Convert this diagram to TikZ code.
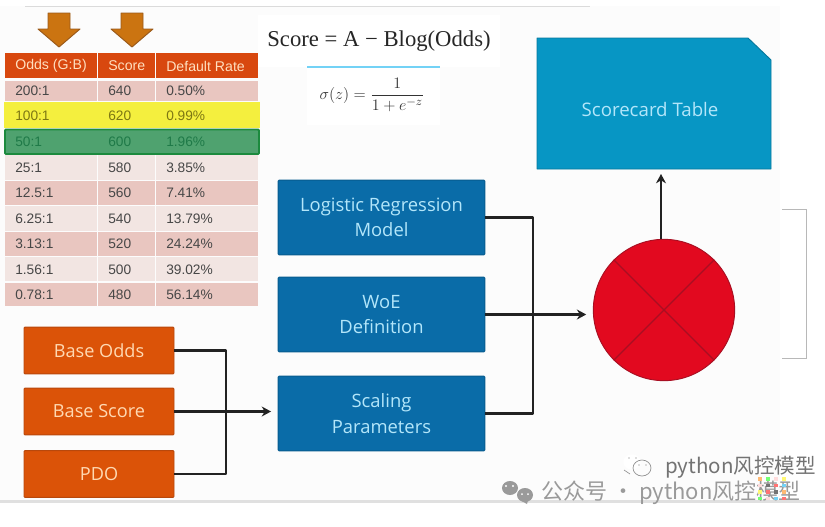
\documentclass[tikz,border=0pt]{standalone}
\usepackage{fontspec}
\usetikzlibrary{arrows.meta,calc}
\setmainfont{Liberation Sans}
\newfontfamily\boxfont{Open Sans}
\newfontfamily\eqfont{Liberation Serif}
\newfontfamily\cjkfont{Noto Sans CJK SC}
\definecolor{pagebg}{HTML}{FCFCFC}
\definecolor{headred}{HTML}{D8480F}
\definecolor{rowdark}{HTML}{E9C6C0}
\definecolor{rowlight}{HTML}{F2E5E2}
\definecolor{rowyellow}{HTML}{F4EF3E}
\definecolor{rowgreen}{HTML}{4FA26F}
\definecolor{greenedge}{HTML}{1C8A3E}
\definecolor{greentext}{HTML}{1F7A48}
\definecolor{orangebox}{HTML}{DB5308}
\definecolor{orangeedge}{HTML}{B8480C}
\definecolor{bluebox}{HTML}{0A6CA8}
\definecolor{tealbox}{HTML}{0796C4}
\definecolor{arrowor}{HTML}{CB7411}
\definecolor{arrowedge}{HTML}{9A5A1A}
\definecolor{redc}{HTML}{E2091F}
\definecolor{redl}{HTML}{A80F22}
\definecolor{line}{HTML}{222222}
\definecolor{wm}{HTML}{9A9A9A}
\tikzset{
  x=0.75pt,y=-0.75pt,
  cell/.style={anchor=west,inner sep=0pt,font=\fontsize{10.3}{12}\selectfont,text=black!72},
  hcell/.style={cell,font=\fontsize{10.6}{12}\selectfont,text=white!75!orange},
  orbox/.style={draw=orangeedge,fill=orangebox,line width=0.7pt,rounded corners=0.7pt,minimum width=112.5pt,minimum height=35pt,inner sep=0pt,text=white!70!orange,font=\boxfont\fontsize{13.6}{15}\selectfont},
  blbox/.style={draw=bluebox!85!black,fill=bluebox,line width=0.7pt,rounded corners=0.7pt,minimum width=155pt,minimum height=56pt,inner sep=0pt,align=center,text=white!70!cyan,font=\boxfont\fontsize{13.8}{19}\selectfont},
  conn/.style={draw=line,line width=1.7pt},
  conna/.style={conn,-{Stealth[length=7pt,width=7.5pt]}},
  down/.style={fill=arrowor,draw=arrowedge,line width=0.7pt,line join=round},
  wmtext/.style={inner sep=0pt,anchor=west,text=wm}
}
\begin{document}
\begin{tikzpicture}
\useasboundingbox (0,0) rectangle (825,526);
\fill[white] (0,0) rectangle (825,526);
\fill[pagebg] (0,6) rectangle (780,500);
\fill[black!12] (0,500) rectangle (825,503);
\fill[black!14] (25,5.5) rectangle (590,7);
% down arrows
\draw[down] (48,13)--(70,13)--(70,29)--(80,29)--(59,47)--(38,29)--(48,29)--cycle;
\draw[down] (121,13)--(143,13)--(143,29)--(153,29)--(132,47)--(111,29)--(121,29)--cycle;
% table fills
\foreach \ya/\yb/\c in {53/78/headred,81/101/rowdark,155/180/rowlight,181/205/rowdark,206/231/rowlight,232/256/rowdark,257/281/rowlight,283/306/rowdark}{
  \fill[\c] (5,\ya) rectangle (96.5,\yb);
  \fill[\c] (97.5,\ya) rectangle (155,\yb);
  \fill[\c] (156,\ya) rectangle (258,\yb);
}
\fill[rowyellow] (4,102) rectangle (260,128);
\draw[fill=rowgreen,draw=greenedge,line width=1.4pt,rounded corners=0.7pt] (5,129.5) rectangle (259,154);
% table text
\node[hcell] (h1) at (15,66) {Odds (G:B)};
\node[hcell] (h2) at (108,66) {Score};
\node[hcell] (h3) at (166,66) {Default Rate};
\foreach \n/\y/\a/\b/\d in {1/91/200:1/640/0.50\%,4/168/25:1/580/3.85\%,5/193/12.5:1/560/7.41\%,6/219/6.25:1/540/13.79\%,7/244/3.13:1/520/24.24\%,8/270/1.56:1/500/39.02\%,9/295/0.78:1/480/56.14\%}{
  \node[cell] (a\n) at (15,\y) {\a};
  \node[cell] (b\n) at (108,\y) {\b};
  \node[cell] (c\n) at (166,\y) {\d};
}
\node[cell,text=olive!85!black] (a2) at (15,116) {100:1};
\node[cell,text=olive!85!black] (b2) at (108,116) {620};
\node[cell,text=olive!85!black] (c2) at (166,116) {0.99\%};
\node[cell,text=greentext] (a3) at (15,142) {50:1};
\node[cell,text=greentext] (b3) at (108,142) {600};
\node[cell,text=greentext] (c3) at (166,142) {1.96\%};
% formulas
\fill[white] (258,15) rectangle (500,67);
\fill[white] (307,67) rectangle (440,125);
\draw[cyan!55,line width=1pt] (307,67) -- (440,67);
\node[inner sep=0pt,text=black!85,font=\eqfont\fontsize{17}{19}\selectfont] (eq1) at (379,41) {Score = A − Blog(Odds)};
\node[inner sep=0pt,text=black!80,font=\fontsize{12.8}{15}\selectfont] (eq2) at (372,95) {$\displaystyle\sigma(z)=\frac{1}{1+e^{-z}}$};
% scorecard
\draw[fill=tealbox,draw=tealbox!80!black,line width=0.7pt,line join=round] (537,38)--(748,38)--(771,60)--(771,169)--(537,169)--cycle;
\node[inner sep=0pt,text=white!70!cyan,font=\boxfont\fontsize{14}{16}\selectfont] (card) at (650,109) {Scorecard Table};
\coordinate (cardin) at (661,174);
% boxes
\node[orbox] (odds) at (99,350.5) {Base Odds};
\node[orbox] (score) at (99,411.5) {Base Score};
\node[orbox] (pdo) at (99,474) {PDO};
\node[blbox] (lr) at (381.5,217.5) {Logistic Regression\\Model};
\node[blbox] (woe) at (381.5,314.5) {WoE\\Definition};
\node[blbox] (scal) at (381.5,413.5) {Scaling\\Parameters};
% circle
\node[circle,fill=redc,draw=redl,line width=0.7pt,minimum size=106pt,inner sep=0pt] (circ) at (664,310) {};
\draw[redl,line width=1pt] (circ.45)--(circ.225) (circ.135)--(circ.315);
% connectors
\coordinate (j1) at (226,350);
\coordinate (j2) at (533,217);
\draw[conn,line join=round] (odds.east) -- (j1 |- odds.east) -- (j1 |- pdo.east) -- (pdo.east);
\draw[conna,shorten >=5pt] (score.east) -- (scal.west |- score.east);
\draw[conn,line join=round] (lr.east) -- (j2 |- lr.east) -- (j2 |- scal.east) -- (scal.east);
\draw[conna,shorten >=5pt] (woe.east) -- (circ.west |- woe.east);
\draw[conna] (circ.north -| cardin) -- (cardin);
% bracket
\coordinate (br1) at (782,209);
\coordinate (br2) at (806,209);
\coordinate (br3) at (806,358);
\coordinate (br4) at (782,358);
\draw[black!28,line width=0.6pt] (br1)--(br2)--(br3)--(br4);
% watermark
\fill[wm] (510,488) ellipse (8 and 7);
\fill[wm] (525,495) ellipse (8 and 7);
\fill[wm] (520,500) -- (528,500) -- (527,504) -- cycle;
\fill[white] (506,486) circle (1.1) (513,486) circle (1.1) (522,494) circle (1) (528,494) circle (1);
\draw[white,line width=1pt,fill=white] (632,462) ellipse (8 and 7);
\draw[black!45,line width=0.5pt] (642,468) ellipse (9 and 8) (624,470)--(630,474);
\fill[black!55] (629,458) circle (0.7) (636,458) circle (0.7) (639,465) circle (0.7) (646,465) circle (0.7);
\node[wmtext,text=black!55,font=\cjkfont\fontsize{15.4}{17}\selectfont] (wm1) at (665,467.5) {python风控模型};
\node[wmtext,font=\cjkfont\fontsize{16.5}{18}\selectfont] (wm2) at (541,493) {公众号 · python风控模型};
% colour speckle
\foreach \i/\j/\c in {0/0/orange,1/0/green,2/0/pink,3/0/yellow,0/1/pink,1/1/black,2/1/red,3/1/cyan,0/2/yellow,1/2/red,2/2/black,3/2/orange,0/3/green,1/3/pink,2/3/cyan,3/3/red}{
  \fill[\c!55] ({758+\i*8},{477+\j*6.5}) rectangle ++(4,3.5);
}
\end{tikzpicture}
\end{document}
